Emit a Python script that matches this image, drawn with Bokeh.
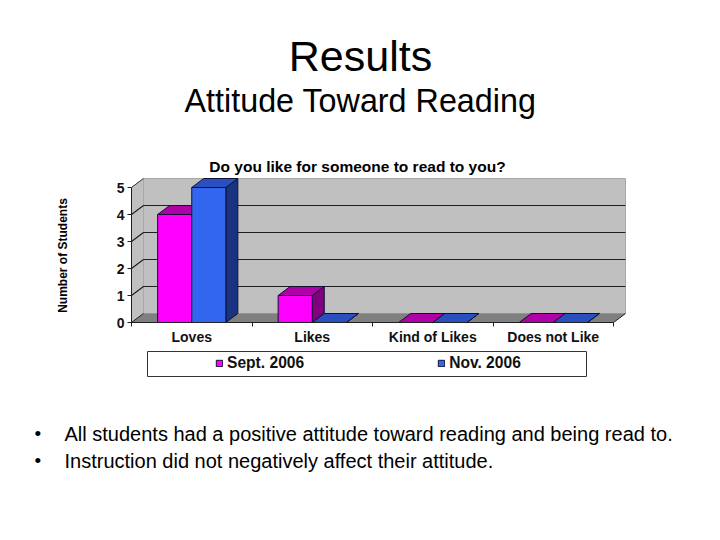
from math import pi
from bokeh.plotting import figure
from bokeh.models import (Range1d, FixedTicker, LinearAxis, Label, Legend, LegendItem, BoxAnnotation)
from bokeh.embed import file_html
from bokeh.resources import INLINE

categories = ["Loves", "Likes", "Kind of Likes", "Does not Like"]
sept_2006 = [4, 1, 0, 0]
nov_2006 = [5, 0, 0, 0]
series_names = ["Sept. 2006", "Nov. 2006"]
y_ticks = [0, 1, 2, 3, 4, 5]
main_title = "Results"
sub_title = "Attitude Toward Reading"
chart_title = "Do you like for someone to read to you?"
y_label = "Number of Students"
bullets = ["All students had a positive attitude toward reading and being read to.",
           "Instruction did not negatively affect their attitude."]

FONT = "Liberation Sans"
W, H = 704, 524
X0, Y0 = 131, 322      # page pixels of the chart origin
UX, UY = 120.5, 27.0   # pixels per category, per student
DX, DY = 12 / UX, 9 / UY
BAR = 0.283
n = len(categories)
ymax = max(y_ticks)

p = figure(width=W, height=H, output_backend="svg", toolbar_location=None,
           x_range=Range1d(-X0 / UX, (W - X0) / UX), y_range=Range1d((Y0 - H) / UY, Y0 / UY),
           x_axis_location=None, y_axis_location=None, min_border=0,
           outline_line_color=None, background_fill_color="white", border_fill_color="white")
p.grid.visible = False

# walls and floor
p.patch([0, DX, DX, 0], [0, DY, ymax + DY, ymax], fill_color="#c0c0c0", line_color="#a8a8a8", line_width=1)
p.patch([DX, n + DX, n + DX, DX], [DY, DY, ymax + DY, ymax + DY], fill_color="#c0c0c0", line_color="#a8a8a8", line_width=1)
p.patch([0, n, n + DX, DX], [0, 0, DY, DY], fill_color="#808080", line_color=None)

# grid lines, bent along the side wall
for t in y_ticks[1:-1]:
    p.line([0, DX, n + DX], [t, t + DY, t + DY], line_color="#202020", line_width=1.2)
p.line([0, DX], [ymax, ymax + DY], line_color="#404040", line_width=1)
p.line([0, DX], [0, DY], line_color="#202020", line_width=1)
p.line([n, n + DX], [0, DY], line_color="#202020", line_width=1)


def bar3d(values, offset, front, side, top):
    xs = [i + 0.5 + offset for i in range(len(values))]
    h = BAR / 2
    p.patches([[x + h, x + h + DX, x + h + DX, x + h] for x in xs],
              [[0, DY, v + DY, v] for v in values],
              fill_color=side, line_color="#101030", line_width=1)
    p.patches([[x - h, x + h, x + h + DX, x - h + DX] for x in xs],
              [[v, v, v + DY, v + DY] for v in values],
              fill_color=top, line_color="#101030", line_width=1)
    return p.vbar(x=xs, top=values, bottom=0, width=BAR, fill_color=front,
                  line_color="#101030", line_width=1)


r_sept = bar3d(sept_2006, -BAR / 2, "#ff00ff", "#800080", "#b000a8")
r_nov = bar3d(nov_2006, BAR / 2, "#3366ee", "#1a3380", "#2a50c0")

# axes
xaxis = LinearAxis(ticker=FixedTicker(ticks=[i + 0.5 for i in range(n)],
                                      minor_ticks=list(range(n + 1))),
                   major_label_overrides={i + 0.5: c for i, c in enumerate(categories)},
                   major_tick_in=0, major_tick_out=0, minor_tick_in=0, minor_tick_out=4,
                   minor_tick_line_color="#202020", axis_line_color="#202020",
                   major_label_text_font=FONT, major_label_text_font_style="bold",
                   major_label_text_font_size="14px", major_label_text_color="#111111",
                   major_label_standoff=2, bounds=(0, n), fixed_location=0)
p.add_layout(xaxis, "below")
yaxis = LinearAxis(ticker=FixedTicker(ticks=y_ticks),
                   major_tick_in=0, major_tick_out=4, minor_tick_out=0, minor_tick_in=0,
                   major_tick_line_color="#202020", axis_line_color="#202020",
                   major_label_text_font=FONT, major_label_text_font_style="bold",
                   major_label_text_font_size="14px", major_label_text_color="#111111",
                   major_label_standoff=3, bounds=(0, ymax), fixed_location=0)
p.add_layout(yaxis, "left")

# legend
p.add_layout(BoxAnnotation(left=147, right=586, bottom=H - 376, top=H - 351,
                           left_units="screen", right_units="screen",
                           bottom_units="screen", top_units="screen",
                           fill_color="white", fill_alpha=1, line_color="#333333", line_width=1,
                           line_alpha=1))
legend = Legend(items=[LegendItem(label=series_names[0], renderers=[r_sept]),
                       LegendItem(label=series_names[1], renderers=[r_nov])],
                orientation="horizontal", location=(215, H - 372), spacing=133,
                padding=0, margin=0, glyph_width=8, glyph_height=8, label_standoff=4,
                label_text_font=FONT, label_text_font_style="bold", label_text_font_size="15.6px",
                label_text_color="#111111", border_line_color=None,
                background_fill_alpha=0)
p.add_layout(legend)


def label(text, x, y, size, bold=False, align="left", angle=0):
    p.add_layout(Label(x=x, y=H - y, x_units="screen", y_units="screen", text=text,
                       text_font=FONT, text_font_size=size, text_align=align,
                       text_baseline="alphabetic", angle=angle, text_color="black",
                       text_font_style="bold" if bold else "normal"))


label(main_title, 360, 55, "43px", align="center")
label(sub_title, 360, 100, "32.3px", align="center")
label(chart_title, 357, 166, "15.5px", bold=True, align="center")
label(y_label, 62, 255, "12px", bold=True, align="center", angle=pi / 2)
for text, y in zip(bullets, [433, 460]):
    label("\u2022", 34, y, "19px")
    label(text, 64, y, "20px")

open("out.html", "w").write(file_html(p, INLINE))
